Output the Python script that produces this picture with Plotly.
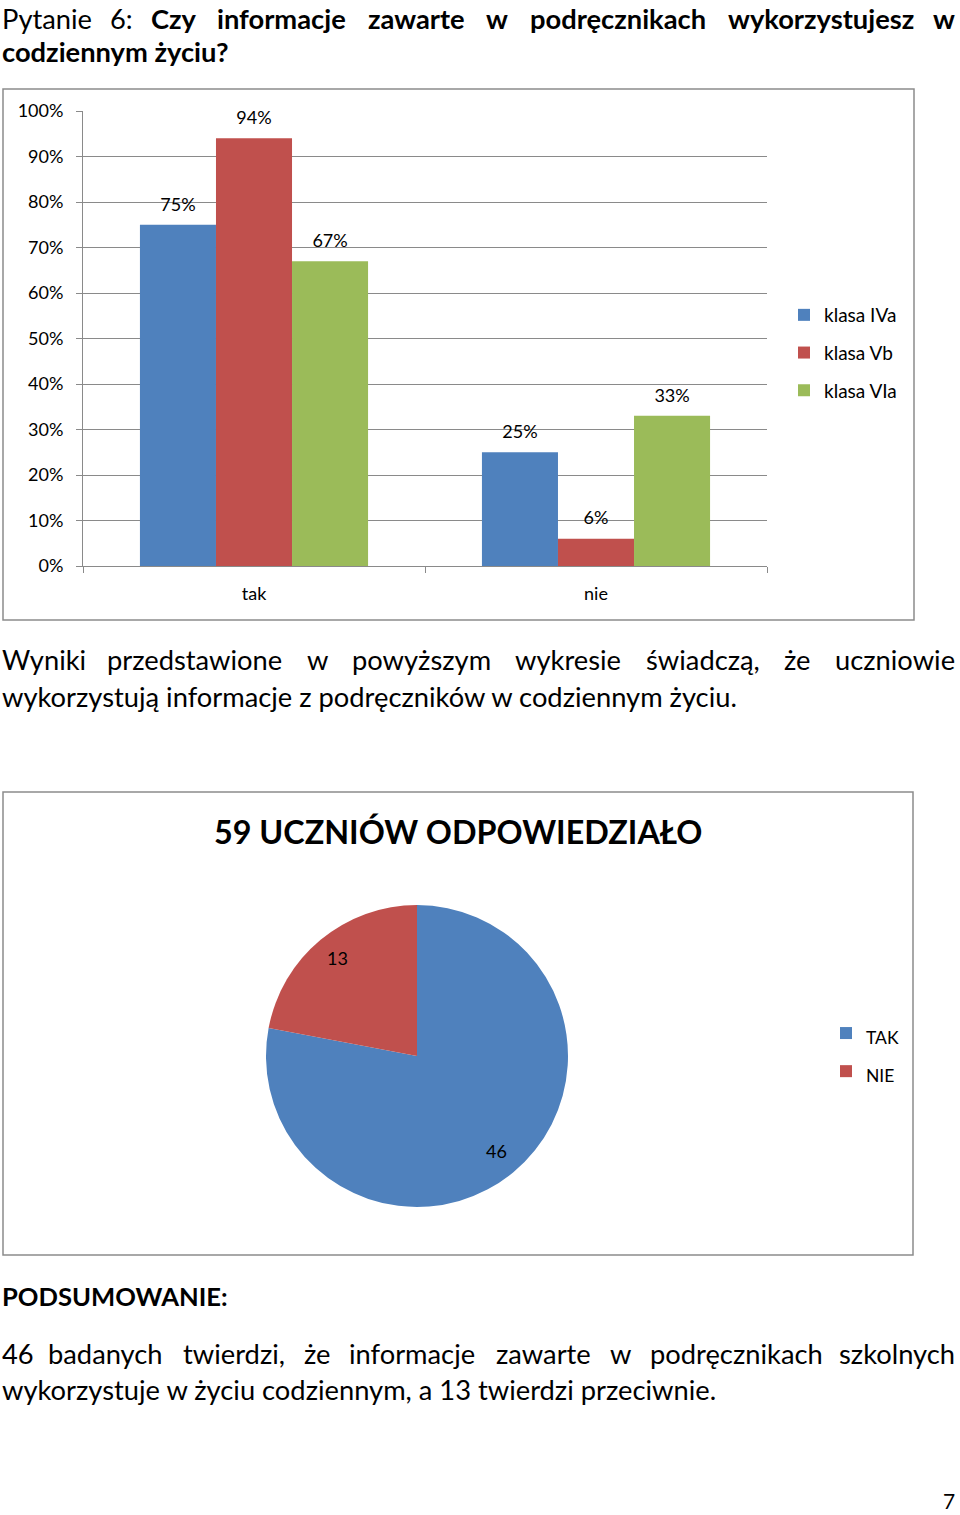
import math
import plotly.graph_objects as go

# ---------------- data ----------------
categories = ["tak", "nie"]
series_names = ["klasa IVa", "klasa Vb", "klasa VIa"]
series_values = {
    "klasa IVa": [0.75, 0.25],
    "klasa Vb": [0.94, 0.06],
    "klasa VIa": [0.67, 0.33],
}
y_ticks = [0, 0.1, 0.2, 0.3, 0.4, 0.5, 0.6, 0.7, 0.8, 0.9, 1.0]

pie_labels = ["TAK", "NIE"]
pie_values = [46, 13]

# ---------------- style ----------------
W, H = 960, 1515
FONT = "Lato"
colors = {"klasa IVa": "#4F81BD", "klasa Vb": "#C0504D", "klasa VIa": "#9BBB59"}
pie_colors = ["#4F81BD", "#C0504D"]
GRID = "#8A8A8A"
BODY = 27.3


def px(x):
    return x / W


def py(y):
    return 1 - y / H


fig = go.Figure()

for name in series_names:
    fig.add_trace(go.Bar(
        x=categories, y=series_values[name], name=name,
        marker=dict(color=colors[name], line=dict(width=0)),
        legendgroup=name, legend="legend", offsetgroup=name,
        hoverinfo="skip", xaxis="x", yaxis="y",
    ))

# value labels above bars (grouped scatter text, invisible markers give offset)
for name in series_names:
    fig.add_trace(go.Scatter(
        x=categories, y=series_values[name], mode="markers+text",
        texttemplate="%{y:.0%}", textposition="top center",
        textfont=dict(family=FONT, size=18, color="#000000"),
        marker=dict(size=14, opacity=0, color=colors[name]),
        offsetgroup=name, showlegend=False, hoverinfo="skip",
        cliponaxis=False, xaxis="x", yaxis="y",
    ))

# pie
pie_cx, pie_cy, pie_r = 417, 1056, 151
fig.add_trace(go.Pie(
    labels=['<span style="font-size:17.5px">%s</span>' % l for l in pie_labels],
    values=pie_values, sort=False, direction="clockwise", rotation=0,
    marker=dict(colors=pie_colors, line=dict(width=0)),
    textinfo="none", legend="legend2", showlegend=True, hoverinfo="skip",
    domain=dict(x=[px(pie_cx - pie_r), px(pie_cx + pie_r)],
                y=[py(pie_cy + pie_r), py(pie_cy - pie_r)]),
))

annotations = []

# pie value labels, positioned from the data (mid-angle of each slice)
total = sum(pie_values)
cum = 0
for v in pie_values:
    mid = (cum + v / 2) / total * 2 * math.pi
    cum += v
    lx = pie_cx + 0.83 * pie_r * math.sin(mid)
    ly = pie_cy - 0.83 * pie_r * math.cos(mid) - 1.5
    annotations.append(dict(x=px(lx), y=py(ly), xref="paper", yref="paper",
                            text=str(v), showarrow=False,
                            font=dict(family=FONT, size=18, color="#000"),
                            xanchor="center", yanchor="middle"))


def text(x, y, s, size=BODY, anchor="left", bold=False):
    if bold:
        s = "<b>%s</b>" % s
    annotations.append(dict(x=px(x), y=py(y), xref="paper", yref="paper",
                            text=s, showarrow=False, xanchor=anchor,
                            yanchor="middle",
                            font=dict(family=FONT, size=size, color="#000")))


def justified(y, words, centers, size=BODY, bold_from=None):
    n = len(words)
    for k, (w, c) in enumerate(zip(words, centers)):
        b = bold_from is not None and k >= bold_from
        if k == 0:
            text(0, y, w, size, "left", b)
        elif k == n - 1:
            text(957, y, w, size, "right", b)
        else:
            text(c, y, w, size, "center", b)


justified(18, ["Pytanie", "6:", "Czy", "informacje", "zawarte", "w",
               "podręcznikach", "wykorzystujesz", "w"],
          [0, 121.5, 174, 281, 416, 497.5, 618, 821, 957], bold_from=2)
text(0, 51, "codziennym życiu?", bold=True)

justified(660, ["Wyniki", "przedstawione", "w", "powyższym", "wykresie",
                "świadczą,", "że", "uczniowie"],
          [0, 194.5, 317.5, 421.5, 568, 703, 797.5, 957])
text(0, 696, "wykorzystują informacje z podręczników w codziennym życiu.")

text(458, 831, "59 UCZNIÓW ODPOWIEDZIAŁO", size=32.3, anchor="center", bold=True)

text(0, 1296, "PODSUMOWANIE:", size=25.6, bold=True)
justified(1353, ["46", "badanych", "twierdzi,", "że", "informacje", "zawarte",
                 "w", "podręcznikach", "szkolnych"],
          [0, 105.5, 233.5, 317.5, 412, 543.5, 620, 736, 957])
text(0, 1389, "wykorzystuje w życiu codziennym, a 13 twierdzi przeciwnie.")

text(957, 1500, "7", size=21, anchor="right")

shapes = [
    dict(type="rect", xref="paper", yref="paper", x0=px(3), x1=px(914),
         y0=py(620), y1=py(89), line=dict(color="#8C8C8C", width=1.5)),
    dict(type="rect", xref="paper", yref="paper", x0=px(3), x1=px(913),
         y0=py(1255), y1=py(792), line=dict(color="#8C8C8C", width=1.5)),
]

fig.update_layout(
    width=W, height=H, autosize=False,
    margin=dict(l=0, r=0, t=0, b=0, autoexpand=False),
    paper_bgcolor="white", plot_bgcolor="white",
    font=dict(family=FONT, color="#000"),
    barmode="group", bargap=0.333, bargroupgap=0,
    scattermode="group", scattergap=0.333,
    xaxis=dict(domain=[px(83), px(767)], type="category",
               showline=True, linecolor=GRID, linewidth=1,
               ticks="outside", tickson="boundaries", ticklen=6,
               tickcolor=GRID, showgrid=False,
               tickfont=dict(family=FONT, size=18, color="#000"),
               ticklabelstandoff=11,
               anchor="y", fixedrange=True),
    yaxis=dict(domain=[py(566), py(111)], range=[0, 1],
               tickvals=y_ticks, tickformat=".0%",
               showline=True, linecolor=GRID, linewidth=1,
               ticks="outside", ticklen=6, tickcolor=GRID,
               showgrid=True, gridcolor=GRID, gridwidth=1, zeroline=False,
               tickfont=dict(family=FONT, size=18, color="#000"),
               ticklabelstandoff=9,
               anchor="x", fixedrange=True),
    legend=dict(x=px(784), y=py(296), xanchor="left", yanchor="top",
                font=dict(family=FONT, size=19, color="#000"),
                tracegroupgap=10, bgcolor="rgba(0,0,0,0)",
                traceorder="grouped"),
    legend2=dict(x=px(826), y=py(1009), xanchor="left", yanchor="top",
                 font=dict(family=FONT, size=27, color="#000"),
                 bgcolor="rgba(0,0,0,0)"),
    annotations=annotations,
    shapes=shapes,
)

fig.write_html("out.html")
